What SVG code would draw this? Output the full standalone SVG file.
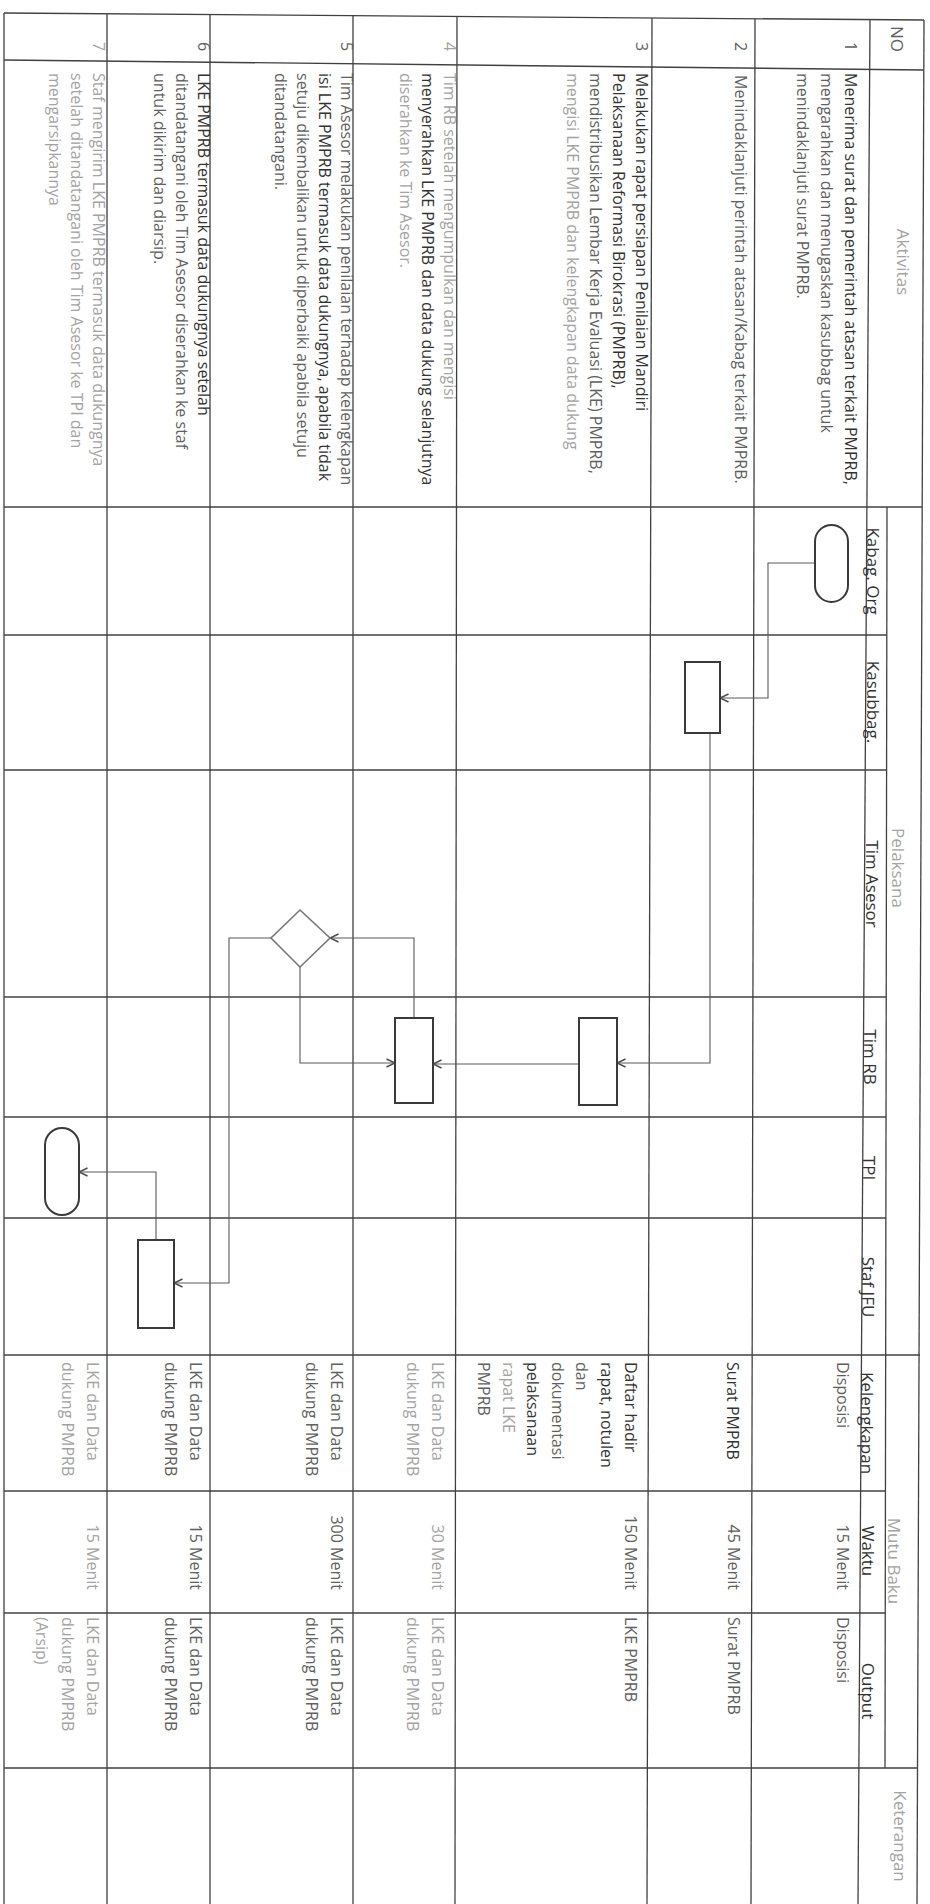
<svg xmlns="http://www.w3.org/2000/svg" width="930" height="1904" viewBox="0 0 930 1904">
<style>
  text { font-family: "Open Sans", "Liberation Sans", sans-serif; font-size: 16px; }
  .h { font-size: 17px; text-anchor: middle; }
  .d { fill: #323232; }
  .m { fill: #606060; }
  .l { fill: #a3a3a3; }
  .g { stroke: #404040; stroke-width: 1.3; fill: none; }
  .shape { fill: #ffffff; stroke: #3a3a3a; stroke-width: 2; }
  .c { fill: none; stroke: #5a5a5a; stroke-width: 1.1; }
</style>
<defs>
  <marker id="arr" viewBox="0 0 10 10" refX="9.5" refY="5" markerWidth="10" markerHeight="10" markerUnits="userSpaceOnUse" orient="auto">
    <path d="M1,1 L9.5,5 L1,9" fill="none" stroke="#4a4a4a" stroke-width="1.4"/>
  </marker>
</defs>
<rect x="0" y="0" width="930" height="1904" fill="#ffffff"/>

<g id="grid">
  <line class="g" x1="4" y1="13" x2="924" y2="20"/>
  <line class="g" x1="4" y1="60" x2="924" y2="70"/>
  <line class="g" x1="4" y1="507" x2="922" y2="507"/>
  <line class="g" x1="4" y1="635" x2="887" y2="635"/>
  <line class="g" x1="4" y1="770" x2="887" y2="770"/>
  <line class="g" x1="4" y1="997" x2="886" y2="997"/>
  <line class="g" x1="4" y1="1117" x2="886" y2="1117"/>
  <line class="g" x1="4" y1="1218" x2="886" y2="1218"/>
  <line class="g" x1="4" y1="1355" x2="920" y2="1355"/>
  <line class="g" x1="4" y1="1491" x2="886" y2="1491"/>
  <line class="g" x1="4" y1="1613" x2="885" y2="1613"/>
  <line class="g" x1="4" y1="1768" x2="918" y2="1768"/>
  <line class="g" x1="4" y1="13" x2="4" y2="1904"/>
  <line class="g" x1="107" y1="14" x2="107" y2="1904"/>
  <line class="g" x1="210" y1="15" x2="210" y2="1904"/>
  <line class="g" x1="353" y1="16" x2="353" y2="1904"/>
  <line class="g" x1="457" y1="17" x2="455" y2="1904"/>
  <line class="g" x1="652" y1="18" x2="647" y2="1904"/>
  <line class="g" x1="755" y1="19" x2="751" y2="1904"/>
  <line class="g" x1="870" y1="20" x2="858" y2="1904"/>
  <line class="g" x1="887" y1="507" x2="885" y2="1768"/>
  <line class="g" x1="924" y1="20" x2="917" y2="1904"/>
</g>

<g id="header">
  <text class="h m" transform="translate(891,39) rotate(90)">NO</text>
  <text class="h l" transform="translate(897,262) rotate(90)">Aktivitas</text>
  <text class="h l" transform="translate(892,868) rotate(90)">Pelaksana</text>
  <text class="h d" transform="translate(867,571) rotate(90)">Kabag. Org</text>
  <text class="h d" transform="translate(867,702) rotate(90)">Kasubbag.</text>
  <text class="h d" transform="translate(866,884) rotate(90)">Tim Asesor</text>
  <text class="h d" transform="translate(864,1057) rotate(90)">Tim RB</text>
  <text class="h d" transform="translate(863,1168) rotate(90)">TPI</text>
  <text class="h d" transform="translate(862,1287) rotate(90)">Staf JFU</text>
  <text class="h d" transform="translate(861,1423) rotate(90)">Kelengkapan</text>
  <text class="h l" transform="translate(888,1561) rotate(90)">Mutu Baku</text>
  <text class="h d" transform="translate(862,1551) rotate(90)">Waktu</text>
  <text class="h d" transform="translate(862,1691) rotate(90)">Output</text>
  <text class="h l" transform="translate(894,1836) rotate(90)">Keterangan</text>
</g>

<g id="row1">
  <text class="m" transform="translate(845,42) rotate(90)">1</text>
  <text transform="translate(845,73) rotate(90)">
    <tspan class="d" x="0" y="0">Menerima surat dan pemerintah atasan terkait PMPRB,</tspan>
    <tspan class="m" x="0" y="24">mengarahkan dan menugaskan kasubbag untuk</tspan>
    <tspan class="m" x="0" y="48">menindaklanjuti surat PMPRB.</tspan>
  </text>
  <text class="m" transform="translate(837,1362) rotate(90)">Disposisi</text>
  <text class="m" transform="translate(837,1590) rotate(90)" text-anchor="end">15 Menit</text>
  <text class="m" transform="translate(837,1617) rotate(90)">Disposisi</text>
</g>

<g id="row2">
  <text class="m" transform="translate(735,42) rotate(90)">2</text>
  <text class="m" transform="translate(735,75) rotate(90)">Menindaklanjuti perintah atasan/Kabag terkait PMPRB.</text>
  <text class="d" transform="translate(727,1362) rotate(90)">Surat PMPRB</text>
  <text class="m" transform="translate(728,1590) rotate(90)" text-anchor="end">45 Menit</text>
  <text class="m" transform="translate(728,1617) rotate(90)">Surat PMPRB</text>
</g>

<g id="row3">
  <text class="m" transform="translate(636,42) rotate(90)">3</text>
  <text transform="translate(636,73) rotate(90)">
    <tspan class="d" x="0" y="0">Melakukan rapat persiapan Penilaian Mandiri</tspan>
    <tspan class="d" x="0" y="23">Pelaksanaan Reformasi Birokrasi (PMPRB),</tspan>
    <tspan class="m" x="0" y="46">mendistribusikan Lembar Kerja Evaluasi (LKE) PMPRB,</tspan>
    <tspan class="l" x="0" y="69">mengisi LKE PMPRB dan kelengkapan data dukung</tspan>
  </text>
  <text transform="translate(625,1362) rotate(90)">
    <tspan class="d" x="0" y="0">Daftar hadir</tspan>
    <tspan class="d" x="0" y="24.5">rapat, notulen</tspan>
    <tspan class="m" x="0" y="49">dan</tspan>
    <tspan class="m" x="0" y="73.5">dokumentasi</tspan>
    <tspan class="d" x="0" y="98">pelaksanaan</tspan>
    <tspan class="l" x="0" y="122.5">rapat LKE</tspan>
    <tspan class="m" x="0" y="147">PMPRB</tspan>
  </text>
  <text class="m" transform="translate(625,1590) rotate(90)" text-anchor="end">150 Menit</text>
  <text class="m" transform="translate(625,1617) rotate(90)">LKE PMPRB</text>
</g>

<g id="row4">
  <text class="l" transform="translate(444,42) rotate(90)">4</text>
  <text transform="translate(444,73) rotate(90)">
    <tspan class="l" x="0" y="0">Tim RB setelah mengumpulkan dan mengisi</tspan>
    <tspan class="d" x="0" y="22">menyerahkan LKE PMPRB dan data dukung selanjutnya</tspan>
    <tspan class="l" x="0" y="44">diserahkan ke Tim Asesor.</tspan>
  </text>
  <text class="l" transform="translate(432,1362) rotate(90)">
    <tspan x="0" y="0">LKE dan Data</tspan>
    <tspan x="0" y="25">dukung PMPRB</tspan>
  </text>
  <text class="l" transform="translate(432,1590) rotate(90)" text-anchor="end">30 Menit</text>
  <text class="l" transform="translate(432,1617) rotate(90)">
    <tspan x="0" y="0">LKE dan Data</tspan>
    <tspan x="0" y="25">dukung PMPRB</tspan>
  </text>
</g>

<g id="row5">
  <text class="m" transform="translate(341,42) rotate(90)">5</text>
  <text transform="translate(341,73) rotate(90)">
    <tspan class="m" x="0" y="0">Tim Asesor melakukan penilaian terhadap kelengkapan</tspan>
    <tspan class="d" x="0" y="22">isi LKE PMPRB termasuk data dukungnya, apabila tidak</tspan>
    <tspan class="m" x="0" y="44">setuju dikembalikan untuk diperbaiki  apabila setuju</tspan>
    <tspan class="m" x="0" y="66">ditandatangani.</tspan>
  </text>
  <text class="m" transform="translate(331,1362) rotate(90)">
    <tspan x="0" y="0">LKE dan Data</tspan>
    <tspan x="0" y="25">dukung PMPRB</tspan>
  </text>
  <text class="m" transform="translate(331,1590) rotate(90)" text-anchor="end">300 Menit</text>
  <text class="m" transform="translate(331,1617) rotate(90)">
    <tspan x="0" y="0">LKE dan Data</tspan>
    <tspan x="0" y="25">dukung PMPRB</tspan>
  </text>
</g>

<g id="row6">
  <text class="m" transform="translate(198,42) rotate(90)">6</text>
  <text transform="translate(198,73) rotate(90)">
    <tspan class="d" x="0" y="0">LKE PMPRB termasuk data dukungnya setelah</tspan>
    <tspan class="m" x="0" y="22">ditandatangani oleh Tim Asesor diserahkan ke staf</tspan>
    <tspan class="m" x="0" y="44">untuk dikirim dan diarsip.</tspan>
  </text>
  <text class="m" transform="translate(190,1362) rotate(90)">
    <tspan x="0" y="0">LKE dan Data</tspan>
    <tspan x="0" y="25">dukung PMPRB</tspan>
  </text>
  <text class="m" transform="translate(190,1590) rotate(90)" text-anchor="end">15 Menit</text>
  <text class="m" transform="translate(190,1617) rotate(90)">
    <tspan x="0" y="0">LKE dan Data</tspan>
    <tspan x="0" y="25">dukung PMPRB</tspan>
  </text>
</g>

<g id="row7">
  <text class="l" transform="translate(93,42) rotate(90)">7</text>
  <text class="l" transform="translate(93,73) rotate(90)">
    <tspan x="0" y="0">Staf mengirim LKE PMPRB termasuk data dukungnya</tspan>
    <tspan x="0" y="22">setelah ditandatangani oleh Tim Asesor ke TPI dan</tspan>
    <tspan x="0" y="44">mengarsipkannya</tspan>
  </text>
  <text class="l" transform="translate(87,1362) rotate(90)">
    <tspan x="0" y="0">LKE dan Data</tspan>
    <tspan x="0" y="25">dukung PMPRB</tspan>
  </text>
  <text class="l" transform="translate(87,1590) rotate(90)" text-anchor="end">15 Menit</text>
  <text class="l" transform="translate(87,1617) rotate(90)">
    <tspan x="0" y="0">LKE dan Data</tspan>
    <tspan x="0" y="25">dukung PMPRB</tspan>
    <tspan x="0" y="51">(Arsip)</tspan>
  </text>
</g>

<g id="connectors">
  <path class="c" d="M815,563 H768 V698 H720" marker-end="url(#arr)"/>
  <path class="c" d="M710,733 V1063 H617" marker-end="url(#arr)"/>
  <path class="c" d="M579,1064 H433" marker-end="url(#arr)"/>
  <path class="c" d="M414,1018 V938 H330" marker-end="url(#arr)"/>
  <path class="c" d="M300,967 V1063 H395" marker-end="url(#arr)"/>
  <path class="c" d="M271,938 H229 V1283 H174" marker-end="url(#arr)"/>
  <path class="c" d="M156,1240 V1172 H79" marker-end="url(#arr)"/>
</g>

<g id="n-kabag-start"><rect class="shape" x="815" y="525" width="33" height="77" rx="16.5"/></g>
<g id="n-kasubbag"><rect class="shape" x="685" y="662" width="35" height="71"/></g>
<g id="n-timrb-1"><rect class="shape" x="579" y="1018" width="38" height="87"/></g>
<g id="n-timrb-2"><rect class="shape" x="395" y="1018" width="38" height="85"/></g>
<g id="n-asesor-decision"><polygon class="shape" points="300,910 330,938 300,967 271,938" style="stroke:#777;stroke-width:1.6"/></g>
<g id="n-staf"><rect class="shape" x="138" y="1240" width="36" height="88"/></g>
<g id="n-tpi-end"><rect class="shape" x="45" y="1128" width="34" height="87" rx="17"/></g>
</svg>
